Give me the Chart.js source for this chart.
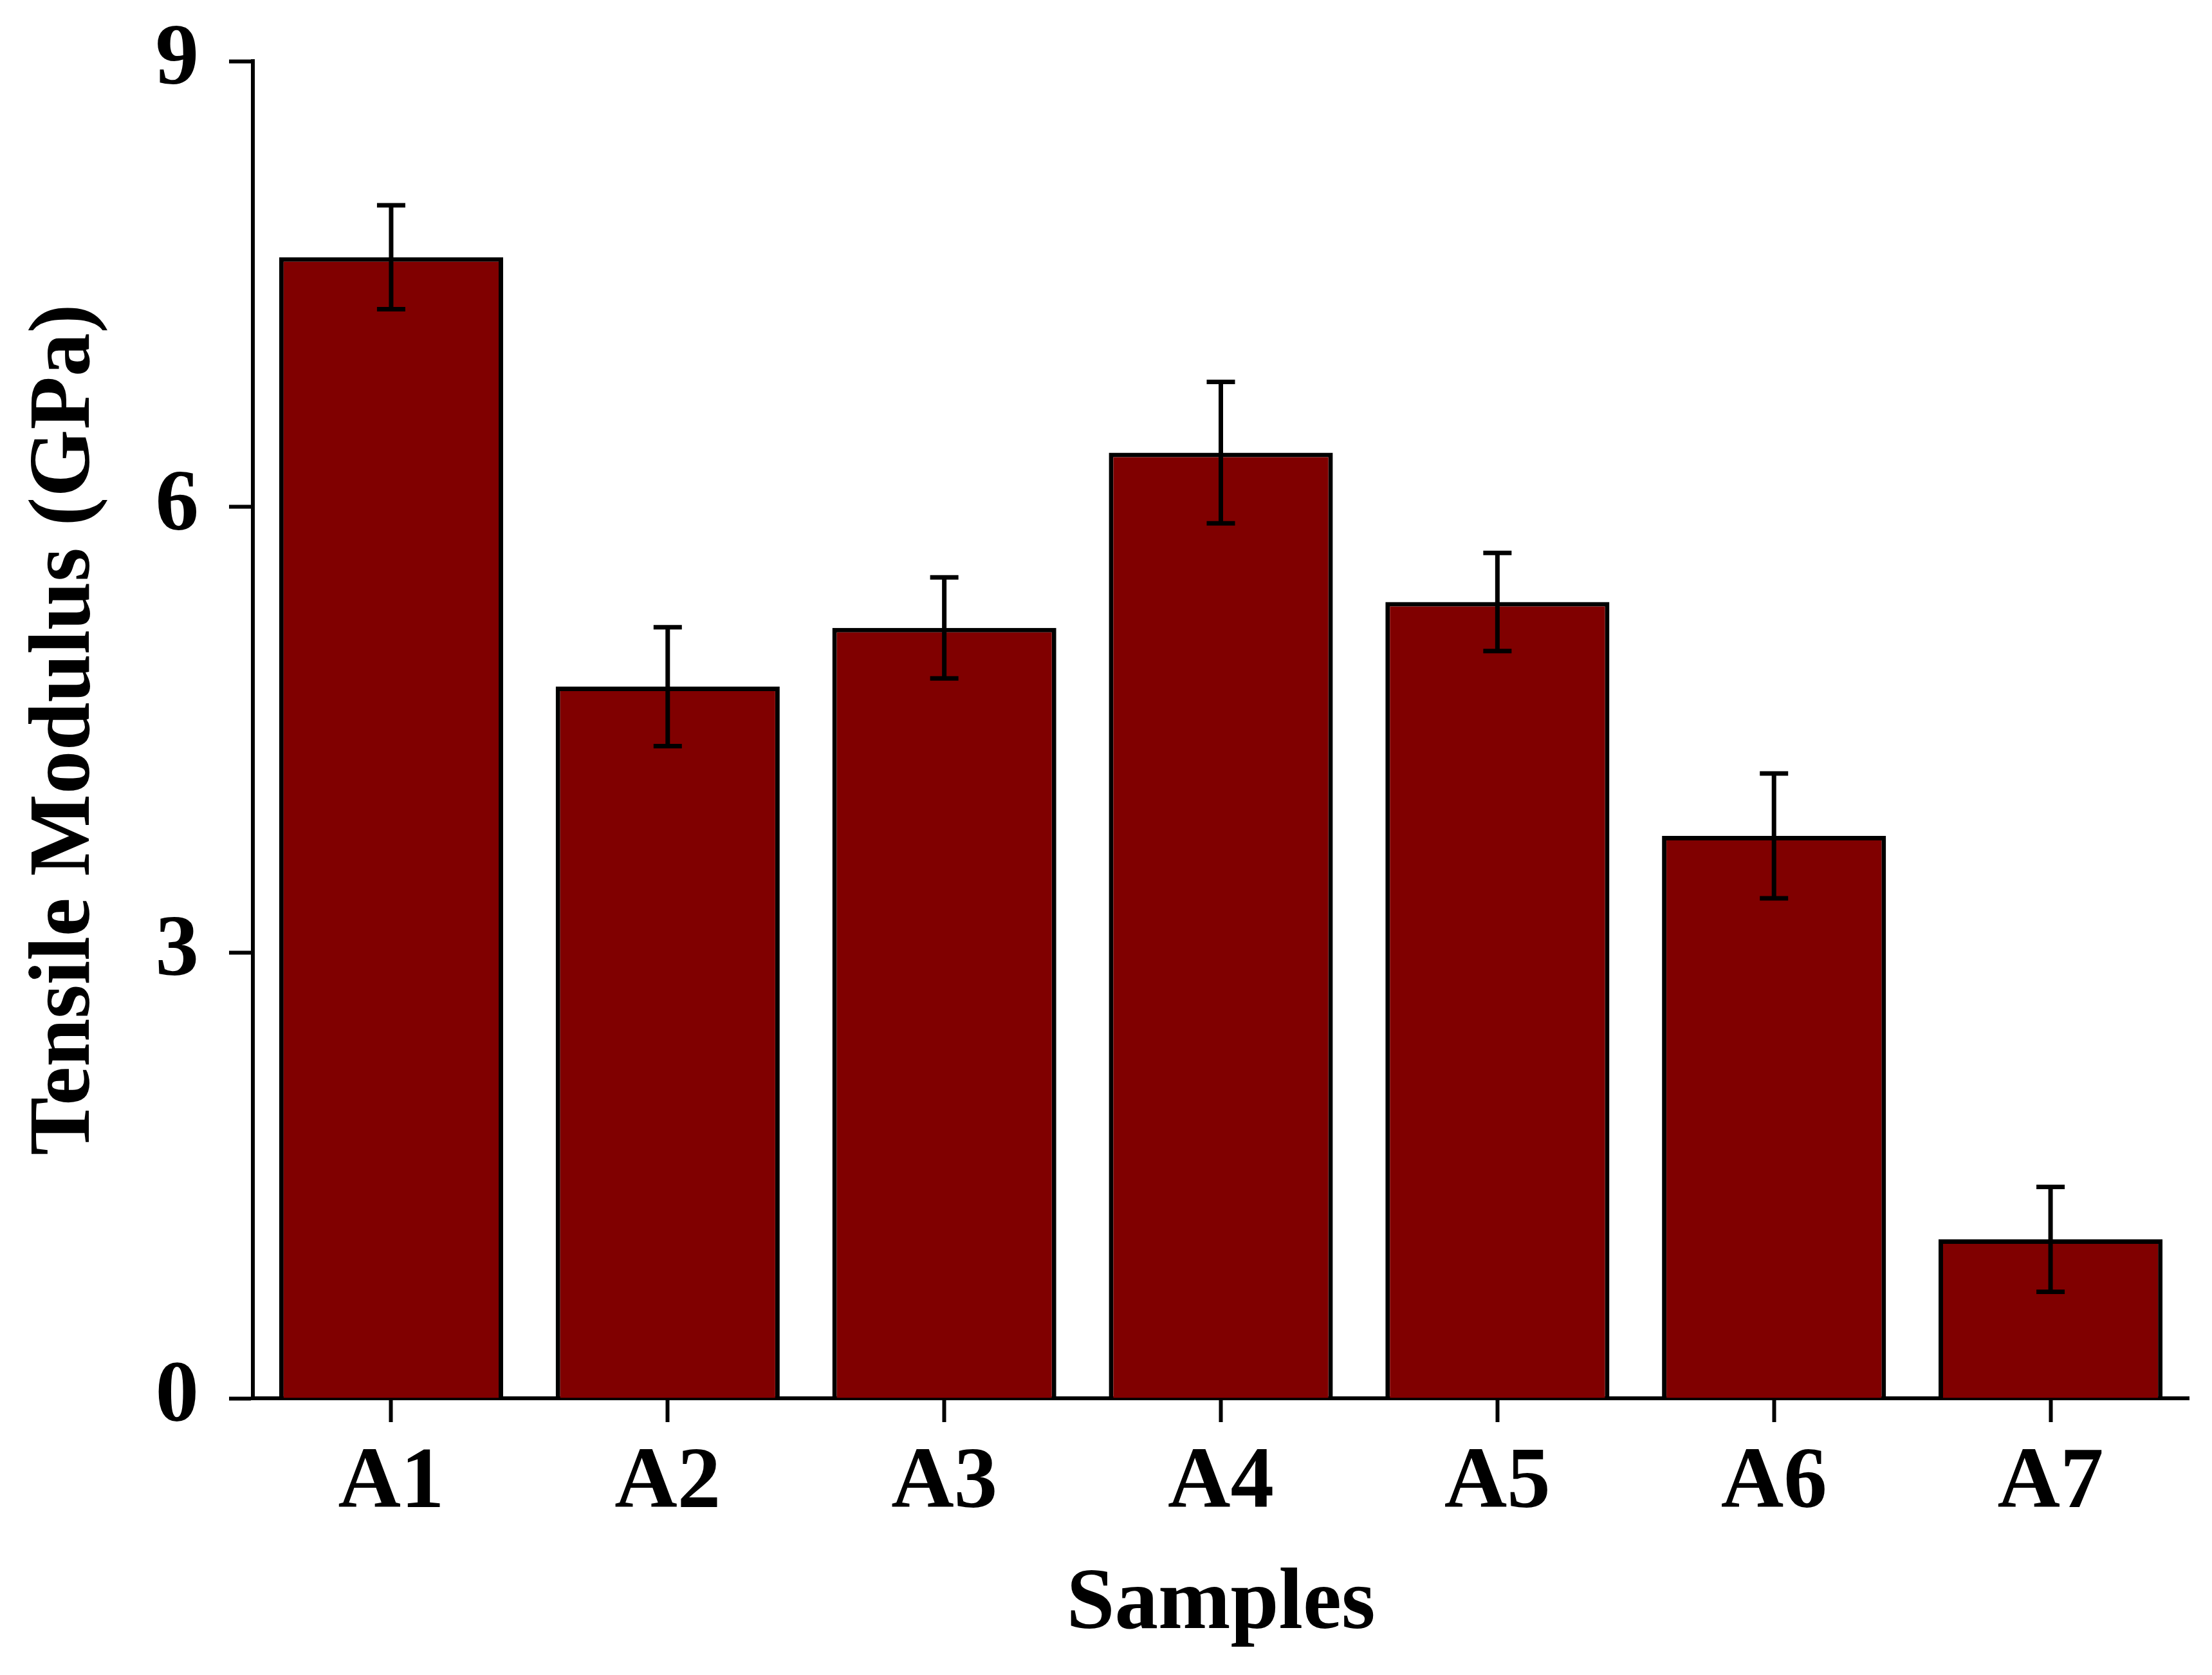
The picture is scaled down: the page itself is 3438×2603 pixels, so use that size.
<!DOCTYPE html>
<html><head><meta charset="utf-8">
<script src="https://cdn.jsdelivr.net/npm/chart.js@4.4.1/dist/chart.umd.min.js"></script>
<style>html,body{margin:0;padding:0;background:#fff;} canvas{display:block;}</style>
</head><body>
<canvas id="c" width="3438" height="2603" style="width:3438px;height:2603px"></canvas>
<script>
const categories = ['A1', 'A2', 'A3', 'A4', 'A5', 'A6', 'A7'];
const modulus = [7.68, 4.79, 5.185, 6.365, 5.36, 3.785, 1.07];
const modulusErr = [0.35, 0.40, 0.34, 0.476, 0.33, 0.42, 0.353];
const yTicks = [0, 3, 6, 9];

const FONT = "'Palatino Linotype', 'Book Antiqua', Palatino, 'Liberation Serif', 'Times New Roman', serif";

const errorBars = {
  id: 'errorBars',
  afterDatasetsDraw(chart) {
    const ctx = chart.ctx;
    const meta = chart.getDatasetMeta(0);
    const ys = chart.scales.y;
    const capHalf = 22;
    ctx.save();
    ctx.strokeStyle = '#000';
    ctx.lineWidth = 7;
    ctx.lineCap = 'butt';
    meta.data.forEach((bar, i) => {
      const x = bar.x;
      const yt = ys.getPixelForValue(modulus[i] + modulusErr[i]);
      const yb = ys.getPixelForValue(modulus[i] - modulusErr[i]);
      ctx.beginPath();
      ctx.moveTo(x, yt); ctx.lineTo(x, yb);
      ctx.moveTo(x - capHalf, yt); ctx.lineTo(x + capHalf, yt);
      ctx.moveTo(x - capHalf, yb); ctx.lineTo(x + capHalf, yb);
      ctx.stroke();
    });
    ctx.restore();
  }
};

new Chart(document.getElementById('c'), {
  type: 'bar',
  data: {
    labels: categories,
    datasets: [{
      data: modulus,
      backgroundColor: '#800000',
      borderColor: '#000000',
      borderWidth: 7,
      borderSkipped: 'start',
      barPercentage: 0.81,
      categoryPercentage: 1.0
    }]
  },
  options: {
    responsive: false,
    animation: false,
    devicePixelRatio: 1,
    layout: { padding: { top: 95, right: 36, bottom: 0, left: 0 } },
    plugins: { legend: { display: false }, tooltip: { enabled: false } },
    scales: {
      x: {
        grid: { display: true, drawOnChartArea: false, drawTicks: true, tickLength: 37, tickWidth: 6, tickColor: '#000', offset: false },
        border: { display: true, color: '#000', width: 6 },
        ticks: { color: '#000', padding: 16, font: { family: FONT, size: 135, weight: 'bold' } },
        title: { display: true, text: 'Samples', color: '#000', padding: { top: 0, bottom: 27 }, font: { family: FONT, size: 135, weight: 'bold' } },
        afterFit(scale) { scale.height = 430; }
      },
      y: {
        min: 0, max: 9,
        afterBuildTicks(scale) { scale.ticks = yTicks.map(v => ({ value: v })); },
        grid: { display: true, drawOnChartArea: false, drawTicks: true, tickLength: 37, tickWidth: 6, tickColor: '#000' },
        border: { display: true, color: '#000', width: 6 },
        ticks: { color: '#000', padding: 47, font: { family: FONT, size: 135, weight: 'bold' } },
        title: { display: true, text: 'Tensile Modulus (GPa)', color: '#000', padding: { top: 22, bottom: 0 }, font: { family: FONT, size: 135, weight: 'bold' } },
        afterFit(scale) { scale.width = 393; scale.paddingTop = 0; scale.paddingBottom = 0; }
      }
    }
  },
  plugins: [errorBars]
});
</script>
</body></html>
